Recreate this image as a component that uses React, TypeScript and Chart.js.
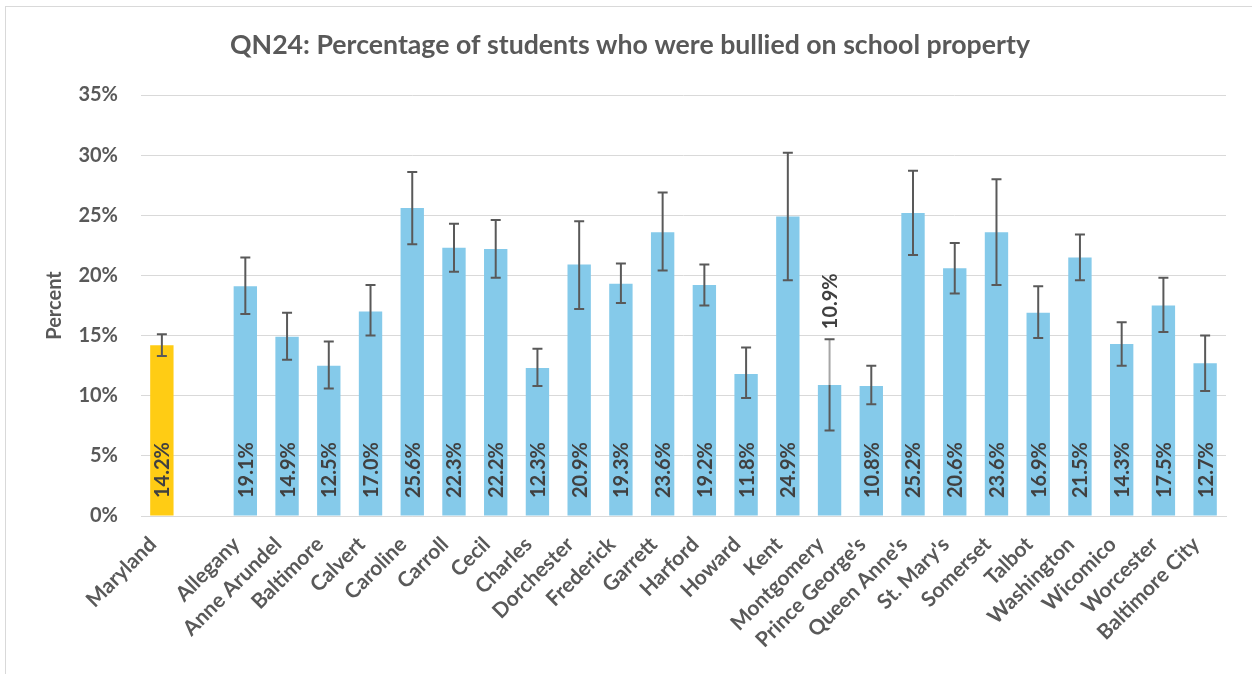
import React, { useEffect, useRef } from "react";
import { Chart, registerables } from "chart.js";

Chart.register(...registerables);

const categories: string[] = [
  "Maryland", "", "Allegany", "Anne Arundel", "Baltimore", "Calvert", "Caroline", "Carroll",
  "Cecil", "Charles", "Dorchester", "Frederick", "Garrett", "Harford", "Howard", "Kent",
  "Montgomery", "Prince George's", "Queen Anne's", "St. Mary's", "Somerset", "Talbot",
  "Washington", "Wicomico", "Worcester", "Baltimore City",
];

const values: (number | null)[] = [
  14.2, null, 19.1, 14.9, 12.5, 17.0, 25.6, 22.3, 22.2, 12.3, 20.9, 19.3, 23.6, 19.2, 11.8,
  24.9, 10.9, 10.8, 25.2, 20.6, 23.6, 16.9, 21.5, 14.3, 17.5, 12.7,
];

const lower: (number | null)[] = [
  13.3, null, 16.8, 13.0, 10.6, 15.0, 22.6, 20.3, 19.8, 10.8, 17.2, 17.7, 20.4, 17.5, 9.8,
  19.6, 7.1, 9.3, 21.7, 18.5, 19.2, 14.8, 19.6, 12.5, 15.3, 10.4,
];

const upper: (number | null)[] = [
  15.1, null, 21.5, 16.9, 14.5, 19.2, 28.6, 24.3, 24.6, 13.9, 24.5, 21.0, 26.9, 20.9, 14.0,
  30.2, 14.7, 12.5, 28.7, 22.7, 28.0, 19.1, 23.4, 16.1, 19.8, 15.0,
];

const labelAbove: string[] = ["Montgomery"];

const titleText = "QN24: Percentage of students who were bullied on school property";
const yTicks: number[] = [0, 5, 10, 15, 20, 25, 30, 35];

const FONT = "Lato, 'Open Sans', sans-serif";

export default function App() {
  const ref = useRef<HTMLCanvasElement | null>(null);

  useEffect(() => {
    if (!ref.current) return;

    const overlay = {
      id: "overlay",
      afterDatasetsDraw(chart: any) {
        const ctx = chart.ctx;
        const meta = chart.getDatasetMeta(0);
        const ys = chart.scales.y;
        ctx.save();
        // error bars
        meta.data.forEach((bar: any, i: number) => {
          const lo = lower[i];
          const hi = upper[i];
          const v = values[i];
          if (lo == null || hi == null || v == null) return;
          const x = bar.x;
          const yLo = ys.getPixelForValue(lo);
          const yHi = ys.getPixelForValue(hi);
          const yV = ys.getPixelForValue(v);
          const cap = 5;
          ctx.lineWidth = 2;
          const above = labelAbove.includes(categories[i]);
          if (above) {
            ctx.strokeStyle = "#a6a6a6";
            ctx.beginPath();
            ctx.moveTo(x, yV);
            ctx.lineTo(x, yHi);
            ctx.stroke();
            ctx.strokeStyle = "#595959";
            ctx.beginPath();
            ctx.moveTo(x, yLo);
            ctx.lineTo(x, yV);
            ctx.stroke();
          } else {
            ctx.strokeStyle = "#595959";
            ctx.beginPath();
            ctx.moveTo(x, yLo);
            ctx.lineTo(x, yHi);
            ctx.stroke();
          }
          ctx.strokeStyle = "#595959";
          ctx.beginPath();
          ctx.moveTo(x - cap, yHi);
          ctx.lineTo(x + cap, yHi);
          ctx.moveTo(x - cap, yLo);
          ctx.lineTo(x + cap, yLo);
          ctx.stroke();
        });
        // value labels
        ctx.fillStyle = "#404040";
        ctx.font = `bold 20px ${FONT}`;
        ctx.textBaseline = "middle";
        ctx.textAlign = "left";
        meta.data.forEach((bar: any, i: number) => {
          const v = values[i];
          if (v == null) return;
          const above = labelAbove.includes(categories[i]);
          const y = above
            ? ys.getPixelForValue(upper[i] as number) - 10
            : ys.getPixelForValue(0) - 18;
          ctx.save();
          ctx.translate(bar.x, y);
          ctx.rotate(-Math.PI / 2);
          ctx.fillText(v.toFixed(1) + "%", 0, 1);
          ctx.restore();
        });
        // title
        ctx.fillStyle = "#595959";
        ctx.font = `bold 26.7px ${FONT}`;
        ctx.textAlign = "center";
        ctx.textBaseline = "middle";
        ctx.fillText(titleText, 630, 45);
        ctx.restore();
      },
    };

    const chart = new Chart(ref.current, {
      type: "bar",
      data: {
        labels: categories,
        datasets: [
          {
            data: values as any,
            backgroundColor: categories.map((c) => (c === "Maryland" ? "#FFCC14" : "#85CAEA")),
            borderWidth: 0,
            categoryPercentage: 1,
            barPercentage: 0.56,
          },
        ],
      },
      options: {
        responsive: false,
        devicePixelRatio: 1,
        animation: false,
        layout: { padding: { top: 95, right: 26, bottom: 0, left: 0 } },
        plugins: {
          legend: { display: false },
          tooltip: { enabled: false },
          title: { display: false },
        },
        scales: {
          x: {
            grid: { display: false },
            border: { display: true, color: "#d9d9d9", width: 1 },
            ticks: {
              color: "#595959",
              font: { family: FONT, size: 21, weight: "bold" },
              maxRotation: 45,
              minRotation: 45,
              autoSkip: false,
              padding: 8,
              labelOffset: -9,
            },
            afterFit: (s: any) => {
              s.height = 158;
            },
          },
          y: {
            min: 0,
            max: 35,
            afterBuildTicks: (s: any) => {
              s.ticks = yTicks.map((v) => ({ value: v }));
            },
            grid: { color: "#d9d9d9", lineWidth: 1, drawTicks: false },
            border: { display: false },
            ticks: {
              color: "#595959",
              font: { family: FONT, size: 20, weight: "bold" },
              padding: 23,
              callback: (v: any) => v + "%",
            },
            title: {
              display: true,
              text: "Percent",
              color: "#595959",
              font: { family: FONT, size: 20, weight: "bold" },
              padding: { top: 43, bottom: 0 },
            },
            afterFit: (s: any) => {
              s.width = 141;
            },
          },
        },
      },
      plugins: [overlay],
    } as any);

    return () => chart.destroy();
  }, []);

  return (
    <div style={{ position: "fixed", left: 0, top: 0, width: 1252, height: 674, background: "#fff", overflow: "hidden" }}>
      <div
        style={{
          position: "absolute",
          left: 5,
          top: 6,
          width: 1260,
          height: 700,
          border: "1px solid #d9d9d9",
          boxSizing: "border-box",
        }}
      />
      <canvas
        ref={ref}
        width={1252}
        height={674}
        style={{ position: "absolute", left: 0, top: 0, width: 1252, height: 674 }}
      />
    </div>
  );
}
